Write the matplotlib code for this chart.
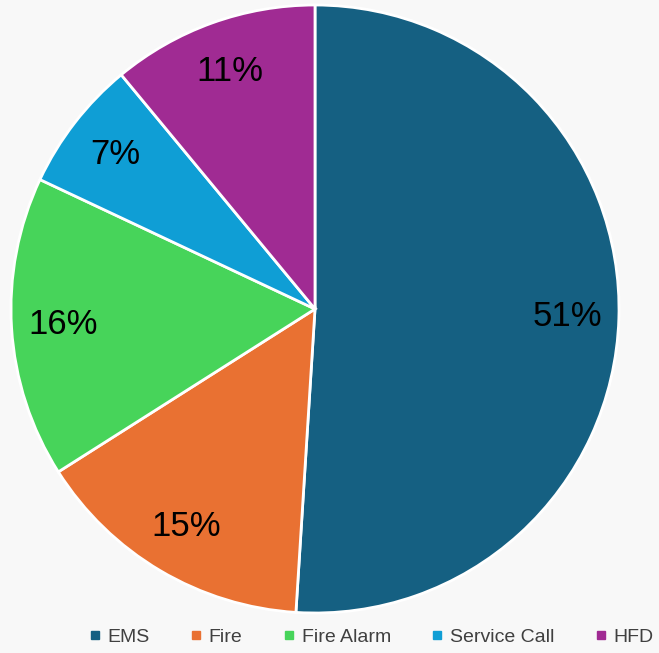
import matplotlib
matplotlib.use("Agg")
import matplotlib.pyplot as plt
from matplotlib.lines import Line2D

categories = ["EMS", "Fire", "Fire Alarm", "Service Call", "HFD"]
values = [51, 15, 16, 7, 11]
colors = ["#156082", "#E97132", "#47D45A", "#0F9ED5", "#A02B93"]

bg = "#f8f8f8"
W, H = 659, 653
fig = plt.figure(figsize=(W / 100, H / 100), dpi=100, facecolor=bg)
cx, cy, r = 315, 309, 304
ax = fig.add_axes([(cx - r) / W, (H - cy - r) / H, 2 * r / W, 2 * r / H])
ax.set_facecolor(bg)
wedges, texts, autotexts = ax.pie(
    values, colors=colors, startangle=90, counterclock=False,
    autopct=lambda p: f"{p:.0f}%", pctdistance=0.83, radius=1,
    wedgeprops=dict(edgecolor="white", linewidth=2),
    textprops=dict(fontsize=25, color="black", family="Liberation Sans"),
)
ax.set_xlim(-1, 1)
ax.set_ylim(-1, 1)
ax.set_aspect("equal")
ax.axis("off")

handles = [Line2D([0], [0], marker="s", linestyle="none", markersize=5.2,
                  markerfacecolor=c, markeredgecolor=c) for c in colors]
leg = fig.legend(handles, categories, loc="center left", ncol=5,
                 bbox_to_anchor=(90 / W, 1 - 637 / H), frameon=False,
                 prop=dict(family="Liberation Sans", size=14),
                 borderpad=0, borderaxespad=0,
                 handlelength=0.5, handletextpad=0.39, columnspacing=2.15)
for t in leg.get_texts():
    t.set_color("#404040")

fig.savefig("out.png", dpi=100, facecolor=bg)
